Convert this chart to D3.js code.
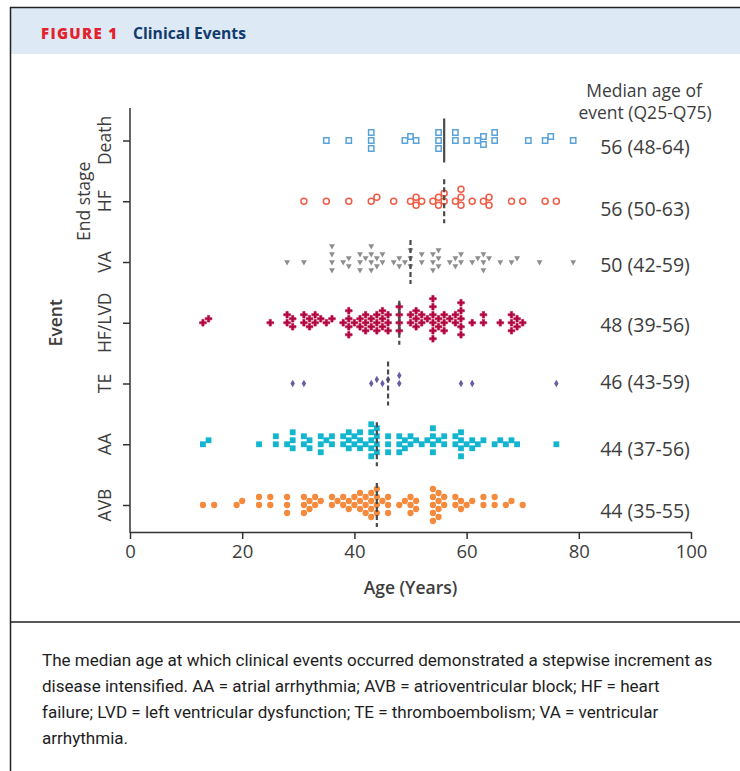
<!DOCTYPE html>
<html><head><meta charset="utf-8">
<script src="https://cdn.jsdelivr.net/npm/d3@7"></script>
<style>body{margin:0;background:#fff;}svg{display:block;}</style>
</head><body>
<svg id="c" width="740" height="771"></svg>
<script>
// ---------- DATA ----------
const categories = ["Death", "End stage HF", "VA", "HF/LVD", "TE", "AA", "AVB"];
const categoryLabelLines = [["Death"], ["End stage", "HF"], ["VA"], ["HF/LVD"], ["TE"], ["AA"], ["AVB"]];
const xTicks = [0, 20, 40, 60, 80, 100];

const deathAges = [35, 39, 43, 43, 43, 49, 50, 51, 55, 55, 55, 58, 58, 60, 62, 63, 63, 65, 65, 71, 74, 75, 79];
const endStageHFAges = [31, 35, 39, 43, 44, 47, 50, 51, 51, 52, 54, 55, 55, 56, 56, 58, 59, 59, 59, 61, 63, 64, 64, 68, 70, 74, 76];
const vaAges = [28, 31, 36, 36, 36, 36, 38, 39, 39, 41, 41, 41, 42, 43, 43, 43, 43, 44, 44, 45, 45, 47, 48, 48, 49,
  50, 50, 50, 52, 52, 54, 54, 54, 55, 55, 55, 57, 58, 58, 59, 59, 61, 62, 63, 63, 63, 64, 66, 68, 69, 73, 79];
const hfLvdAges = [13, 14, 25, 28, 28, 29, 29, 31, 31, 32, 32, 33, 33, 34, 35, 36, 38, 39, 39, 39, 39, 40, 41, 41,
  42, 42, 42, 43, 43, 44, 44, 44, 45, 45, 45, 46, 46, 46, 48, 48, 48, 48, 50, 50, 51, 51, 51, 52, 52, 53,
  54, 54, 54, 54, 54, 54, 55, 55, 56, 56, 56, 57, 58, 58, 59, 59, 59, 59, 59, 61, 63, 63, 66, 68, 68, 68, 69, 69, 70];
const teAges = [29, 31, 43, 44, 45, 46, 48, 48, 59, 61, 76];
const aaAges = [13, 14, 23, 26, 26, 28, 29, 29, 29, 31, 31, 32, 32, 34, 34, 34, 35, 36, 36, 38, 38, 39, 39, 39,
  40, 40, 41, 41, 41, 42, 43, 43, 43, 43, 43, 44, 44, 44, 44, 46, 46, 46, 48, 48, 48, 49, 49, 50, 50, 51,
  52, 53, 54, 54, 54, 54, 55, 56, 56, 58, 58, 59, 59, 59, 59, 60, 61, 61, 62, 63, 65, 66, 67, 68, 69, 76];
const avbAges = [13, 15, 19, 20, 23, 23, 25, 25, 28, 28, 28, 31, 31, 31, 32, 32, 33, 33, 34, 36, 36, 37, 38, 38,
  39, 39, 40, 40, 41, 41, 41, 42, 42, 42, 43, 43, 43, 43, 44, 44, 44, 44, 45, 46, 46, 46, 48, 49, 50, 50, 50,
  51, 51, 54, 54, 54, 54, 54, 55, 55, 55, 55, 56, 56, 58, 58, 59, 59, 60, 61, 63, 63, 65, 65, 67, 68, 70];

const medians = [56, 56, 50, 48, 46, 44, 44];
const medianLabels = ["56 (48-64)", "56 (50-63)", "50 (42-59)", "48 (39-56)", "46 (43-59)", "44 (37-56)", "44 (35-55)"];

const seriesAges = [deathAges, endStageHFAges, vaAges, hfLvdAges, teAges, aaAges, avbAges];

// ---------- STYLE ----------
const seriesStyle = [
  {type: d3.symbolSquare, size: 28, fill: "none", stroke: "#5aa3da", sw: 1.5, rot: 0},
  {type: d3.symbolCircle, size: 28, fill: "none", stroke: "#ef5b45", sw: 1.5, rot: 0},
  {type: d3.symbolTriangle, size: 15, fill: "#8e8e8e", stroke: "none", sw: 0, rot: 180},
  {type: d3.symbolCross, size: 25, fill: "#b3063f", stroke: "#b3063f", sw: 0.6, rot: 0},
  {type: d3.symbolDiamond, size: 17, fill: "#6a5ba6", stroke: "none", sw: 0, rot: 0},
  {type: d3.symbolSquare, size: 34, fill: "#14b6cf", stroke: "none", sw: 0, rot: 0},
  {type: d3.symbolCircle, size: 31, fill: "#f58a3d", stroke: "none", sw: 0, rot: 0}
];
const medianSolid = [true, false, false, false, false, false, false];
const labelNudge = [2, 3, -2, -2, -6, 0, 1];
const FONT = "'Open Sans', 'Noto Sans', sans-serif";
const TXT = "#3d3d3d";

const svg = d3.select("#c");

// ---------- FRAME ----------
svg.append("rect").attr("x", 10).attr("y", 7).attr("width", 740).attr("height", 47).attr("fill", "#dde9f5");
svg.append("line").attr("x1", 10).attr("x2", 740).attr("y1", 7.5).attr("y2", 7.5).attr("stroke", "#222").attr("stroke-width", 1.5);
svg.append("line").attr("x1", 10.5).attr("x2", 10.5).attr("y1", 7).attr("y2", 771).attr("stroke", "#222").attr("stroke-width", 1.5);
svg.append("line").attr("x1", 10).attr("x2", 740).attr("y1", 622).attr("y2", 622).attr("stroke", "#222").attr("stroke-width", 1.5);

function fitWidth(sel, target) {
  const w = sel.node().getComputedTextLength();
  const fs = parseFloat(sel.attr("font-size"));
  if (w > 0) sel.attr("font-size", (fs * target / w).toFixed(2));
}

const t1 = svg.append("text").attr("x", 41).attr("y", 38.5).attr("font-family", FONT).attr("font-weight", 800)
  .attr("font-size", 14).attr("letter-spacing", 1.3).attr("fill", "#e2222d").text("FIGURE 1");
fitWidth(t1, 78);
const t2 = svg.append("text").attr("x", 133).attr("y", 38.5).attr("font-family", FONT).attr("font-weight", 700)
  .attr("font-size", 15).attr("fill", "#123b6d").text("Clinical Events");
fitWidth(t2, 113);

// ---------- SCALES ----------
const x = d3.scaleLinear().domain([0, 100]).range([130, 691]);
const y = d3.scalePoint().domain(categories).range([140.5, 505]);

// x axis
const gx = svg.append("g").attr("transform", "translate(0,532)")
  .call(d3.axisBottom(x).tickValues(xTicks).tickSize(7).tickSizeOuter(0).tickPadding(6));
gx.select(".domain").attr("stroke", "#333").attr("stroke-width", 1.5);
gx.selectAll(".tick line").attr("stroke", "#333").attr("stroke-width", 1.5);
gx.selectAll(".tick text").attr("font-family", FONT).attr("font-size", 18.5).attr("fill", TXT);

// y axis
const gy = svg.append("g").attr("transform", "translate(130,0)")
  .call(d3.axisLeft(y).tickSize(7).tickSizeOuter(0).tickFormat(""));
gy.select(".domain").remove();
gy.selectAll(".tick line").attr("stroke", "#333").attr("stroke-width", 1.5);
svg.append("line").attr("x1", 130).attr("x2", 130).attr("y1", 108).attr("y2", 532.75)
  .attr("stroke", "#333").attr("stroke-width", 1.5);

// y category labels (rotated)
categories.forEach((c, i) => {
  const lines = categoryLabelLines[i];
  const g = svg.append("g").attr("transform", `translate(111,${y(c)}) rotate(-90)`);
  lines.forEach((ln, j) => {
    g.append("text").attr("x", 0).attr("y", -(lines.length - 1 - j) * 21.5)
      .attr("text-anchor", "middle").attr("font-family", FONT).attr("font-size", 17.5)
      .attr("fill", TXT).text(ln);
  });
});
svg.append("text").attr("transform", `translate(62,${y("HF/LVD")}) rotate(-90)`)
  .attr("text-anchor", "middle").attr("font-family", FONT).attr("font-size", 17.5).attr("font-weight", 600)
  .attr("fill", TXT).text("Event");

svg.append("text").attr("x", x(50)).attr("y", 594).attr("text-anchor", "middle")
  .attr("font-family", FONT).attr("font-size", 17.5).attr("font-weight", 600).attr("fill", TXT).text("Age (Years)");

// ---------- SWARM LAYOUT (column scatter on a half-step grid) ----------
function swarm(values) {
  const step = 4;
  const pts = values.map(v => ({v, px: x(v)})).sort((a, b) => a.px - b.px);
  const placed = [];
  pts.forEach(p => {
    const near = placed.filter(q => Math.abs(q.px - p.px) < 7);
    for (let k = 0; k < 60; k++) {
      const off = k === 0 ? 0 : (k % 2 ? -1 : 1) * Math.ceil(k / 2) * step;
      const ok = near.every(q => {
        const need = Math.abs(q.px - p.px) < 3 ? 8 : 4;
        return Math.abs(q.off - off) >= need;
      });
      if (ok) { p.off = off; break; }
    }
    placed.push(p);
  });
  return placed;
}

// ---------- POINTS ----------
categories.forEach((c, i) => {
  const st = seriesStyle[i];
  const pts = swarm(seriesAges[i]);
  const sym = d3.symbol().type(st.type).size(st.size);
  svg.append("g").selectAll("path").data(pts).join("path")
    .attr("d", sym)
    .attr("transform", d => `translate(${d.px},${y(c) + d.off}) rotate(${st.rot})`)
    .attr("fill", st.fill).attr("stroke", st.stroke).attr("stroke-width", st.sw);
  // median line
  svg.append("line").attr("x1", x(medians[i])).attr("x2", x(medians[i]))
    .attr("y1", y(c) - 22).attr("y2", y(c) + 22)
    .attr("stroke", "#4a4a4a").attr("stroke-width", 2.2)
    .attr("stroke-dasharray", medianSolid[i] ? null : "5,3");
  // right label
  svg.append("text").attr("x", 645).attr("y", y(c) + 11.5 + labelNudge[i]).attr("text-anchor", "middle")
    .attr("font-family", FONT).attr("font-size", 19.5).attr("fill", TXT).text(medianLabels[i]);
});

svg.append("text").attr("x", 644).attr("y", 97).attr("text-anchor", "middle")
  .attr("font-family", FONT).attr("font-size", 17.5).attr("fill", TXT).text("Median age of");
svg.append("text").attr("x", 645).attr("y", 119).attr("text-anchor", "middle")
  .attr("font-family", FONT).attr("font-size", 17.5).attr("fill", TXT).text("event (Q25-Q75)");

// ---------- CAPTION (horizontally condensed) ----------
const captionLines = [
  "The median age at which clinical events occurred demonstrated a stepwise increment as",
  "disease intensified. AA = atrial arrhythmia; AVB = atrioventricular block; HF = heart",
  "failure; LVD = left ventricular dysfunction; TE = thromboembolism; VA = ventricular",
  "arrhythmia."
];
const capG = captionLines.map((ln, i) => {
  const g = svg.append("g").attr("transform", `translate(42,${666 + i * 26})`);
  g.append("text").attr("x", 0).attr("y", 0).attr("font-family", "Roboto, 'Liberation Sans', sans-serif")
    .attr("font-size", 16.5).attr("fill", "#1e1e1e").text(ln);
  return g;
});
const w0 = capG[0].select("text").node().getComputedTextLength();
const sx = 671 / w0;
capG.forEach((g, i) => g.attr("transform", `translate(42,${666 + i * 26}) scale(${sx},1)`));
</script>
</body></html>
